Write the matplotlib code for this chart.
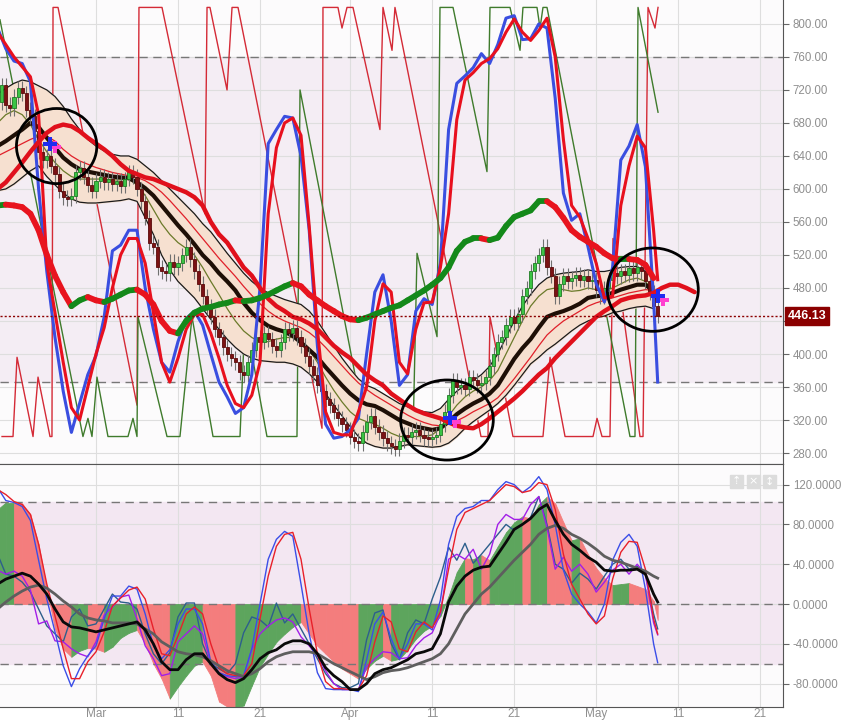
import numpy as np
import matplotlib.pyplot as plt
import matplotlib.transforms as mtransforms
from matplotlib.patches import Ellipse, Rectangle
from matplotlib.collections import LineCollection

plt.rcParams['font.family'] = ['Liberation Sans', 'DejaVu Sans']

# ---------------- data (x = days from 1 March) ----------------
days = np.arange(-12, 69)          # one value per day for the indicator lines
last_day = 68.5                    # last half-day candle
slow_days = np.arange(-12, 74)     # slow red average is projected a few days ahead

tick_days = [0, 10, 20, 31, 41, 51, 61, 71, 81]
tick_labels = ["Mar", "11", "21", "Apr", "11", "21", "May", "11", "21"]

closes = [726, 702, 698, 712, 722, 716, 696, 688, 670, 645,
          635, 640, 628, 618, 598, 590, 588, 592, 620, 625,
          615, 605, 598, 610, 615, 608, 612, 606, 610, 604,
          612, 620, 615, 600, 585, 565, 535, 530, 505, 500,
          498, 512, 505, 510, 520, 530, 515, 500, 485, 470,
          458, 445, 430, 420, 408, 400, 395, 390, 378, 375,
          390, 405, 420, 415, 425, 418, 410, 405, 415, 430,
          425, 432, 420, 410, 398, 385, 375, 362, 355, 345,
          338, 330, 322, 315, 308, 300, 295, 292, 305, 318,
          325, 312, 305, 298, 292, 288, 285, 295, 302, 300,
          306, 308, 302, 298, 297, 300, 302, 315, 330, 350,
          368, 360, 362, 358, 372, 368, 362, 365, 372, 385,
          400, 415, 420, 435, 445, 438, 448, 470, 480, 500,
          510, 520, 530, 505, 495, 470, 485, 495, 488, 492,
          496, 490, 494, 488, 490, 478, 470, 480, 490, 498,
          494, 500, 496, 504, 498, 505, 500, 488, 475, 458,
          446.13]
first_open = 705
last_price = 446.13

mid_ma = [652, 658, 665, 672, 680, 675, 662, 650, 638, 630,
          624, 621, 619, 617, 615, 614, 613, 608, 601, 592,
          580, 568, 556, 545, 533, 520, 510, 498, 488, 477,
          462, 450, 441, 434, 430, 427, 422, 414, 405, 396,
          384, 373, 362, 352, 344, 339, 337, 332, 326, 320,
          316, 312, 310, 308, 310, 318, 327, 334, 340, 345,
          352, 362, 378, 394, 407, 418, 432, 445, 449, 452,
          456, 461, 468, 470, 471, 474, 478, 481, 484, 484,
          476]
band_upper = [715, 722, 728, 732, 730, 725, 720, 712, 700, 685,
              672, 660, 652, 646, 642, 640, 640, 636, 628, 620,
              610, 600, 590, 580, 570, 558, 548, 535, 522, 510,
              498, 488, 480, 474, 470, 466, 463, 460, 452, 440,
              425, 410, 395, 382, 370, 362, 358, 352, 346, 340,
              336, 333, 330, 329, 334, 345, 355, 362, 368, 375,
              385, 400, 420, 440, 458, 472, 484, 492, 496, 498,
              499, 500, 502, 500, 500, 502, 505, 506, 506, 500,
              492]
band_lower = [598, 600, 606, 614, 622, 628, 615, 605, 595, 588,
              584, 583, 583, 584, 585, 586, 588, 585, 565, 545,
              520, 502, 488, 478, 468, 455, 442, 430, 418, 408,
              400, 395, 392, 391, 390, 390, 388, 384, 376, 366,
              352, 338, 325, 312, 300, 292, 288, 286, 286, 288,
              290, 289, 288, 287, 288, 292, 300, 310, 318, 325,
              332, 340, 350, 362, 375, 388, 396, 405, 412, 420,
              428, 435, 440, 444, 446, 450, 452, 455, 457, 458,
              455]
thin_red = [640, 645, 650, 655, 660, 664, 664, 658, 648, 640,
            634, 630, 626, 623, 620, 618, 616, 614, 610, 604,
            596, 586, 575, 564, 552, 540, 528, 516, 505, 494,
            482, 471, 461, 452, 445, 440, 436, 432, 426, 418,
            408, 397, 386, 375, 365, 357, 350, 344, 338, 332,
            326, 321, 317, 314, 313, 315, 319, 324, 330, 335,
            340, 347, 358, 370, 383, 396, 410, 423, 432, 440,
            446, 452, 458, 462, 465, 468, 471, 474, 476, 478,
            477]
thin_olive = [680, 690, 695, 690, 678, 660, 645, 632, 622, 615,
              612, 612, 612, 612, 611, 611, 612, 605, 592, 575,
              558, 545, 535, 528, 520, 505, 488, 472, 455, 440,
              428, 420, 415, 415, 418, 420, 420, 416, 405, 390,
              372, 356, 342, 330, 322, 318, 315, 310, 304, 300,
              300, 300, 300, 302, 310, 325, 338, 348, 355, 360,
              368, 380, 400, 420, 440, 458, 470, 478, 480, 478,
              476, 477, 480, 478, 476, 480, 485, 490, 492, 488,
              475]
slow_red = [600, 608, 620, 632, 645, 657, 668, 675, 678, 676,
            670, 662, 655, 648, 640, 630, 622, 618, 614, 612,
            608, 604, 600, 596, 590, 580, 560, 545, 535, 520,
            505, 495, 480, 467, 458, 452, 445, 442, 437, 430,
            420, 410, 402, 395, 385, 375, 368, 362, 352, 345,
            338, 332, 328, 325, 322, 317, 313, 311, 310, 315,
            322, 330, 338, 346, 355, 365, 375, 383, 395, 405,
            415, 425, 435, 445, 452, 458, 465, 468, 470, 471,
            474, 480, 484, 484, 480, 475]
trend = [580, 581, 580, 578, 570, 550, 520, 495, 475, 458,
         465, 469, 465, 463, 467, 472, 477, 478, 472, 460,
         440, 428, 425, 440, 450, 455, 457, 460, 462, 465,
         464, 465, 468, 472, 477, 482, 486, 482, 472, 465,
         458, 452, 446, 442, 441, 444, 448, 452, 456, 459,
         465, 471, 477, 484, 492, 505, 525, 536, 540, 540,
         538, 541, 555, 566, 570, 574, 585, 585, 578, 565,
         550, 542, 536, 530, 522, 516, 515, 515, 514, 508,
         492]
osc_blue = [795, 770, 755, 752, 730, 600, 500, 420, 355, 305,
            340, 375, 398, 445, 525, 532, 550, 550, 480, 430,
            390, 378, 415, 443, 452, 435, 400, 366, 348, 328,
            335, 375, 480, 655, 672, 688, 686, 640, 550, 410,
            315, 298, 300, 308, 322, 400, 475, 496, 440, 362,
            375, 452, 467, 460, 510, 672, 728, 737, 747, 764,
            752, 775, 807, 810, 781, 782, 800, 795, 710, 595,
            562, 570, 530, 485, 463, 505, 635, 652, 678, 627,
            465, 366]
osc_red = [790, 775, 760, 748, 736, 690, 510, 450, 390, 335,
           320, 360, 400, 432, 480, 520, 540, 540, 510, 450,
           390, 366, 395, 430, 448, 448, 425, 395, 362, 340,
           335, 350, 390, 570, 650, 680, 686, 665, 555, 430,
           330, 305, 302, 302, 330, 360, 440, 485, 475, 390,
           376, 430, 462, 463, 505, 570, 684, 732, 741, 752,
           758, 770, 790, 806, 790, 780, 792, 807, 760, 660,
           580, 566, 540, 510, 468, 470, 580, 628, 664, 650,
           550, 490]

# sawtooth lines (day, value)
saw_red_t = [-11.46, -10.12, -9.63, -7.68, -7.07, -5.61, -5.37, -5.24, -4.63, 5.0,
             5.24, 8.05, 13.29, 13.54, 13.9, 15.98, 16.59, 17.32, 27.56, 27.68,
             29.51, 30.0, 30.61, 31.34, 34.63, 35.0, 36.1, 36.46, 46.95, 47.8,
             48.05, 50.85, 54.51, 55.37, 57.2, 60.61, 61.1, 61.71, 62.68, 63.05,
             66.34, 66.71, 67.32, 68.17, 68.54]
saw_red_v = [300, 300, 396, 300, 372, 300, 300, 820, 820, 338,
             820, 820, 570, 820, 820, 720, 820, 820, 310, 820,
             820, 795, 820, 820, 672, 820, 768, 820, 300, 300,
             445, 300, 300, 396, 300, 300, 322, 300, 300, 540,
             300, 300, 820, 795, 820]
saw_green_t = [-11.71, -1.59, -0.98, -0.49, 0.12, 1.46, 3.9, 4.51, 5.0, 5.12,
               8.66, 10.24, 11.71, 14.27, 17.56, 18.17, 20.85, 24.51, 24.88, 33.05,
               38.66, 39.15, 41.59, 41.95, 43.54, 47.68, 48.05, 50.49, 51.71, 52.07,
               53.78, 54.15, 54.51, 55.0, 65.12, 65.73, 66.1, 68.54]
saw_green_v = [805, 300, 322, 300, 372, 300, 300, 322, 300, 445,
               300, 300, 445, 300, 300, 445, 300, 300, 720, 300,
               300, 522, 421, 820, 820, 621, 820, 820, 768, 820,
               820, 795, 820, 820, 300, 300, 820, 693]

signal_marks_t = [-5.6, 43.2, 68.5]
signal_marks_v = [655, 322, 470]
circle_t = [-4.8, 42.8, 67.9]
circle_v = [652, 320, 478]

# lower panel
hist = [95, 102, 102, 101, 90, 60, 15, -25, -45, -53,
        -47, -44, -45, -48, -43, -34, -29, -26, -40, -60,
        -75, -95, -83, -72, -62, -58, -72, -98, -103, -104,
        -102, -82, -63, -50, -38, -30, -23, -18, -30, -42,
        -50, -58, -65, -70, -75, -65, -57, -52, -57, -55,
        -46, -35, -27, -22, -12, 8, 32, 46, 45, 49,
        44, 58, 72, 82, 88, 86, 100, 108, 101, 82,
        64, 66, 50, 36, 26, 19, 20, 21, 18, 15,
        3, -16]
line_black = [20, 25, 28, 31, 28, 20, 10, -5, -18, -23,
              -24, -26, -28, -26, -24, -22, -20, -18, -26, -40,
              -58, -66, -66, -56, -50, -50, -60, -70, -76, -79,
              -75, -66, -55, -49, -46, -40, -37, -37, -40, -50,
              -64, -72, -78, -86, -86, -80, -70, -66, -64, -60,
              -56, -50, -48, -45, -30, 2, 18, 28, 34, 37,
              38, 50, 62, 75, 80, 86, 95, 100, 84, 70,
              60, 54, 47, 42, 34, 33, 34, 34, 35, 30,
              10, 2]
line_gray = [-5, 2, 8, 13, 17, 19, 16, 10, 3, -3,
             -10, -14, -16, -17, -19, -19, -19, -20, -25, -30,
             -38, -43, -48, -50, -51, -53, -57, -62, -67, -70,
             -73, -70, -65, -58, -53, -50, -48, -48, -48, -50,
             -55, -60, -64, -68, -72, -76, -73, -69, -67, -66,
             -64, -61, -58, -55, -50, -40, -25, -10, 0, 10,
             17, 26, 35, 44, 52, 60, 70, 76, 79, 76,
             70, 66, 61, 55, 48, 44, 42, 39, 36, 33,
             28, 26]
fast_blue = [117, 104, 102, 98, 84, 44, 5, -28, -62, -83,
             -65, -52, -42, -15, 8, 8, 18, 15, -10, -42,
             -55, -46, -20, -5, -5, -20, -58, -69, -72, -73,
             -72, -45, 0, 45, 65, 73, 68, 20, -30, -69,
             -85, -86, -86, -86, -88, -56, -20, -8, -35, -55,
             -40, -20, -20, -26, 4, 60, 88, 96, 98, 104,
             104, 115, 123, 120, 112, 118, 128, 115, 80, 34,
             10, 0, -8, -19, 0, 44, 62, 70, 58, 15,
             -40, -59]
fast_red = [115, 110, 103, 100, 90, 60, 20, -12, -45, -75,
            -75, -58, -48, -28, -2, 6, 14, 17, 5, -25,
            -50, -52, -32, -10, -3, -10, -40, -64, -70, -72,
            -72, -60, -15, 28, 58, 70, 72, 45, -5, -50,
            -78, -85, -85, -86, -86, -72, -38, -12, -18, -45,
            -48, -28, -18, -24, -8, 35, 75, 92, 96, 100,
            104, 112, 120, 118, 112, 114, 122, 120, 95, 50,
            20, 5, -10, -20, -12, 25, 52, 63, 62, 35,
            -15, -30]
line_purple = [34, 30, 33, 28, 14, -20, -17, -37, -38, -45,
               -50, -53, -38, -11, -3, 7, 9, -15, -42, -55,
               -72, -70, -38, -30, -22, -30, -60, -69, -73, -75,
               -73, -46, -30, -22, -16, -14, -18, -33, -42, -52,
               -67, -80, -86, -86, -86, -63, -55, -48, -49, -55,
               -54, -42, -34, -29, -10, 45, 50, 45, 55, 35,
               50, 80, 90, 85, 85, 100, 108, 77, 35, 47,
               33, 40, 30, 12, 22, 34, 40, 30, 40, 30,
               -19, -31]
line_teal = [50, 30, 28, 22, 12, -5, -22, -30, -38, -13,
             -5, -22, -20, -5, 10, 2, 1, -5, -30, -50,
             -60, -49, -13, 1, 1, -40, -60, -65, -70, -60,
             -29, -13, -16, -23, 1, -19, -10, -25, -40, -55,
             -70, -80, -84, -84, -80, -36, -9, -6, -40, -56,
             -29, -16, -20, 5, 27, 57, 44, 61, 41, 50,
             60, 70, 80, 74, 80, 87, 108, 80, 40, 35,
             21, 31, 25, 15, 28, 40, 45, 35, 38, 30,
             -10, -25]

# ---------------- figure ----------------
W, H = 842, 721
fig = plt.figure(figsize=(W / 100, H / 100), dpi=100)
fig.patch.set_facecolor('white')
ax1 = fig.add_axes([0, 1 - 464 / H, 783 / W, 464 / H])
ax2 = fig.add_axes([0, 1 - 707 / H, 783 / W, 243 / H], sharex=ax1)

x_ext = np.append(days, last_day)
candle_t = -11.5 + 0.5 * np.arange(len(closes))
opens = [first_open] + closes[:-1]

label_col = '#8f8f8f'
grid_col = '#dedede'

for ax in (ax1, ax2):
    ax.set_facecolor('#fcfbfc')
    ax.set_xticks(tick_days)
    ax.grid(True, color=grid_col, lw=0.8, zorder=0)
    ax.set_axisbelow(True)
    ax.yaxis.tick_right()
    ax.tick_params(axis='y', colors=label_col, labelsize=8.3, length=4, pad=3)
    ax.tick_params(axis='y', color='#666666')
    for s in ('left', 'top'):
        ax.spines[s].set_visible(False)
    for s in ('right', 'bottom'):
        ax.spines[s].set_color('#555555')

ax1.set_xlim(-96 / 8.2, (783 - 96) / 8.2)
ax1.set_ylim(266.7, 829)
ax2.set_ylim(-103.5, 140.7)

# --- top panel ---
ax1.axhspan(366, 760, color='#f4edf4', zorder=0)
ax1.axhline(760, color='#777777', lw=1, ls=(0, (6, 4)), zorder=1)
ax1.axhline(366, color='#777777', lw=1, ls=(0, (6, 4)), zorder=1)
ax1.set_yticks(np.arange(280, 801, 40))
ax1.set_yticklabels([f"{v:.2f}" for v in np.arange(280, 801, 40)])
ax1.tick_params(axis='x', labelbottom=False, length=0)

ax1.plot(saw_red_t, saw_red_v, color='#d42a36', lw=1, zorder=2)
ax1.plot(saw_green_t, saw_green_v, color='#3f7b2c', lw=1, zorder=2)

ax1.fill_between(days, band_lower, band_upper, color='#f6e0d0', zorder=2)
ax1.plot(days, band_upper, color='#1a1a1a', lw=0.9, zorder=3)
ax1.plot(days, band_lower, color='#1a1a1a', lw=0.9, zorder=3)
ax1.plot(days, thin_red, color='#e0202a', lw=0.9, zorder=3)
ax1.plot(days, thin_olive, color='#6b7a2a', lw=0.9, zorder=3)
ax1.plot(days, mid_ma, color='#1e0f06', lw=3, zorder=4)

# candles
o = np.array(opens, dtype=float)
c = np.array(closes, dtype=float)
up = c >= o
body_lo = np.minimum(o, c)
body_h = np.maximum(np.abs(c - o), 2)
wick = 9
ax1.vlines(candle_t, body_lo - wick, body_lo + body_h + wick, color='#707070', lw=0.8, zorder=5)
ax1.bar(candle_t[up], body_h[up], bottom=body_lo[up], width=0.38,
        color='#3cc445', edgecolor='#1f7a24', lw=0.6, zorder=6)
ax1.bar(candle_t[~up], body_h[~up], bottom=body_lo[~up], width=0.38,
        color='#7b1214', edgecolor='#5a0909', lw=0.6, zorder=6)

ax1.plot(x_ext, osc_blue, color='#3a4ee0', lw=2.2, zorder=7)
ax1.plot(x_ext, osc_red, color='#e8101e', lw=2.2, zorder=7)
ax1.plot(slow_days, slow_red, color='#e0101c', lw=3.2, zorder=8, solid_capstyle='round')

tv = np.array(trend, dtype=float)
pts = np.column_stack([days, tv]).reshape(-1, 1, 2)
segs = np.concatenate([pts[:-1], pts[1:]], axis=1)
cols = ['#14891a' if b >= a else '#e8141e' for a, b in zip(tv[:-1], tv[1:])]
ax1.add_collection(LineCollection(segs, colors=cols, lw=4.2, zorder=8, capstyle='round'))

ax1.axhline(last_price, color='#8b0000', lw=1, ls=(0, (1.5, 1.5)), zorder=8)
trans = mtransforms.blended_transform_factory(ax1.transAxes, ax1.transData)
ax1.text(1.006, last_price, f"{last_price:.2f}", transform=trans, ha='left', va='center',
         color='white', fontsize=9, fontweight='bold', zorder=20, clip_on=False,
         bbox=dict(boxstyle='square,pad=0.22', fc='#8b0000', ec='#8b0000'))

ax1.scatter(np.array(signal_marks_t) + 0.6, np.array(signal_marks_v) - 4, marker='P',
            s=70, color='#ff40d0', zorder=9, lw=0)
ax1.scatter(signal_marks_t, signal_marks_v, marker='P', s=90, color='#1f2cf0', zorder=10, lw=0)

for ct, cv, w, h in zip(circle_t, circle_v, [9.8, 11.3, 11.1], [91, 97, 101]):
    ax1.add_patch(Ellipse((ct, cv), w, h, fill=False, ec='black', lw=2, zorder=11))

# --- bottom panel ---
ax2.axhspan(-60, 102.5, color='#f3e7f2', zorder=0)
for lvl in (102.5, 0, -60):
    ax2.axhline(lvl, color='#777777', lw=1, ls=(0, (6, 4)), zorder=3)
ax2.set_yticks([-80, -40, 0, 40, 80, 120])
ax2.set_yticklabels([f"{v:.4f}" for v in [-80, -40, 0, 40, 80, 120]])
ax2.set_xticklabels(tick_labels)
ax2.tick_params(axis='x', colors=label_col, labelsize=8.5, length=0, pad=1)
ax2.spines['top'].set_visible(True)
ax2.spines['top'].set_color('#555555')

hv = np.array(hist, dtype=float)
for i in range(len(hv) - 1):
    col = '#5da55d' if hv[i + 1] >= hv[i] else '#f47d7d'
    ax2.fill_between(x_ext[i:i + 2], 0, hv[i:i + 2], color=col, ec=col, lw=0.6, zorder=2)

ax2.plot(x_ext, line_teal, color='#2d5f8c', lw=1, zorder=4)
ax2.plot(x_ext, line_purple, color='#a21ee8', lw=1, zorder=4)
ax2.plot(x_ext, fast_blue, color='#3b4ee8', lw=1, zorder=5)
ax2.plot(x_ext, fast_red, color='#e8202a', lw=1, zorder=5)
ax2.plot(x_ext, line_gray, color='#5e5e5e', lw=2, zorder=6)
ax2.plot(x_ext, line_black, color='#0a0a0a', lw=2, zorder=6)

# small toolbar buttons
for k, sym in enumerate(['⇡', '×', '↕']):
    x0 = (730 + 16.5 * k) / 783
    ax2.add_patch(Rectangle((x0, (707 - 488) / 243), 13 / 783, 13 / 243,
                            transform=ax2.transAxes, color='#dcdcdc', zorder=12, clip_on=False))
    ax2.text(x0 + 6.5 / 783, (707 - 481.5) / 243, sym, transform=ax2.transAxes,
             ha='center', va='center', color='white', fontsize=8, zorder=13,
             family=['DejaVu Sans'])

fig.savefig('out.png', dpi=100)
